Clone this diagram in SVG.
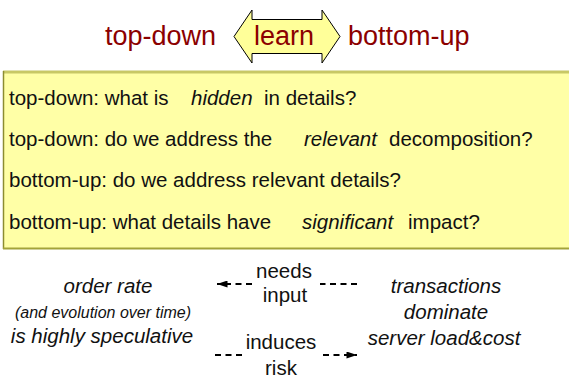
<svg xmlns="http://www.w3.org/2000/svg" width="569" height="379" viewBox="0 0 569 379">
  <defs>
    <style>
      .title { font-family: "Liberation Sans", Arial, sans-serif; font-size: 27px; fill: #8b0000; }
      .q { font-family: "Liberation Sans", Arial, sans-serif; font-size: 20.5px; fill: #111; }
      .it { font-style: italic; }
      .lbl { font-family: "Liberation Sans", Arial, sans-serif; font-size: 20.5px; fill: #111; text-anchor: middle; }
      .small { font-size: 16px; }
      .dash { stroke: #000; stroke-width: 1.8; stroke-dasharray: 6 4.5; fill: none; }
    </style>
    <marker id="head" viewBox="0 0 12 8" refX="12" refY="4" markerWidth="12" markerHeight="7" markerUnits="userSpaceOnUse" orient="auto">
      <path d="M0,0 L12,4 L0,8 Z" fill="#000"/>
    </marker>
  </defs>

  <rect width="569" height="379" fill="#fff"/>

  <!-- heading: top-down <learn> bottom-up -->
  <g id="heading">
    <text class="title" x="105" y="45">top-down</text>
    <path d="M234,36.5 L252,10 L252,19.5 L322,19.5 L322,10 L340,36.5 L322,63 L322,53.5 L252,53.5 L252,63 Z" fill="#ffff99" stroke="#000" stroke-width="1"/>
    <text class="title" x="284" y="45" text-anchor="middle">learn</text>
    <text class="title" x="348" y="45">bottom-up</text>
  </g>

  <!-- question panel -->
  <g id="questions">
    <rect x="3" y="71.5" width="570" height="177" fill="#ffffa6"/>
    <line x1="3" y1="72" x2="569" y2="72" stroke="#c8c866" stroke-width="3"/>
    <line x1="3.5" y1="71" x2="3.5" y2="249" stroke="#8c8c30" stroke-width="1.5"/>
    <line x1="3" y1="248.5" x2="569" y2="248.5" stroke="#a3a33a" stroke-width="2"/>
    <text class="q" x="9" y="104.5">top-down: what is</text>
    <text class="q it" x="191" y="104.5">hidden</text>
    <text class="q" x="264" y="104.5">in details?</text>
    <text class="q" x="9" y="145.5">top-down: do we address the</text>
    <text class="q it" x="304" y="145.5">relevant</text>
    <text class="q" x="389" y="145.5">decomposition?</text>
    <text class="q" x="9" y="187">bottom-up: do we address relevant details?</text>
    <text class="q" x="9" y="228.5">bottom-up: what details have</text>
    <text class="q it" x="302" y="228.5">significant</text>
    <text class="q" x="408" y="228.5">impact?</text>
  </g>

  <!-- left statement -->
  <g id="order-rate">
    <text class="lbl it" x="108" y="293">order rate</text>
    <text class="lbl it small" x="103" y="318">(and evolution over time)</text>
    <text class="lbl it" x="102" y="343">is highly speculative</text>
  </g>

  <!-- right statement -->
  <g id="transactions">
    <text class="lbl it" x="446" y="293">transactions</text>
    <text class="lbl it" x="446" y="319">dominate</text>
    <text class="lbl it" x="444" y="345">server load&amp;cost</text>
  </g>

  <!-- dashed relations with their labels -->
  <g id="connectors">
    <line class="dash" x1="357" y1="284" x2="320" y2="284"/>
    <line class="dash" x1="252" y1="284" x2="217" y2="284" marker-end="url(#head)"/>
    <text class="lbl" x="284" y="278">needs</text>
    <text class="lbl" x="285" y="302">input</text>

    <line class="dash" x1="215" y1="355" x2="246" y2="355"/>
    <line class="dash" x1="323" y1="355" x2="357" y2="355" marker-end="url(#head)"/>
    <text class="lbl" x="281" y="349">induces</text>
    <text class="lbl" x="281" y="375">risk</text>
  </g>
</svg>
